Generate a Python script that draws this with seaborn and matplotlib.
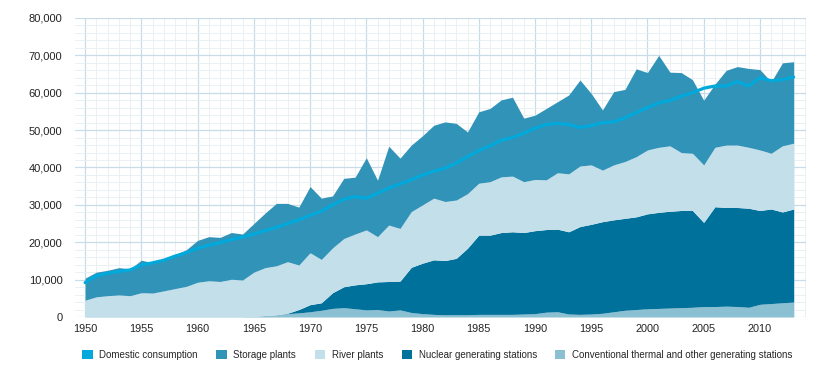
import numpy as np
import matplotlib
matplotlib.use("Agg")
import matplotlib.pyplot as plt
from matplotlib.patches import Patch
from matplotlib.ticker import FuncFormatter, MultipleLocator
import seaborn as sns

# Swiss electricity, GWh, 1950-2013
years = list(range(1950, 2014))

# cumulative upper edges of the stacked areas, bottom to top
conventional = [
    100, 100, 100, 100, 100, 100, 100, 100, 100, 100,
    100, 100, 100, 100, 100, 200, 400, 600, 900, 1100,
    1400, 1800, 2300, 2500, 2200, 1900, 2000, 1600, 1900, 1200,
    900, 700, 600, 600, 600, 700, 700, 700, 700, 800,
    900, 1300, 1400, 800, 700, 800, 1000, 1400, 1800, 2000,
    2200, 2300, 2400, 2500, 2600, 2800, 2800, 2900, 2800, 2600,
    3400, 3600, 3800, 4000]
nuclear_top = [
    100, 100, 100, 100, 100, 100, 100, 100, 100, 100,
    100, 100, 100, 100, 100, 200, 400, 600, 1000, 2000,
    3300, 3800, 6500, 8100, 8600, 8900, 9400, 9500, 9600, 13300,
    14400, 15300, 15100, 15700, 18400, 21900, 21900, 22600, 22800, 22600,
    23100, 23400, 23500, 22800, 24200, 24800, 25500, 26000, 26400, 26800,
    27600, 28000, 28300, 28500, 28500, 25300, 29500, 29300, 29300, 29100,
    28500, 28900, 28100, 28900]
river_top = [
    4500, 5400, 5700, 5900, 5700, 6500, 6400, 7000, 7600, 8200,
    9300, 9700, 9500, 10100, 9900, 12000, 13200, 13700, 14800, 13900,
    17200, 15400, 18500, 21000, 22200, 23300, 21500, 24600, 23700, 28200,
    30000, 31800, 30900, 31300, 33000, 35800, 36200, 37500, 37700, 36200,
    36800, 36700, 38600, 38300, 40400, 40700, 39300, 40700, 41600, 42900,
    44700, 45400, 45800, 44000, 43800, 40700, 45400, 46000, 46000, 45400,
    44700, 43800, 45800, 46500]
storage_top = [
    10400, 12000, 12500, 13200, 12900, 15200, 14500, 15500, 16700, 18000,
    20500, 21500, 21300, 22600, 22200, 25000, 27800, 30400, 30400, 29400,
    34900, 31800, 32400, 37100, 37400, 42600, 36600, 45700, 42500, 46000,
    48500, 51300, 52200, 51800, 49500, 54900, 55800, 58100, 58800, 53200,
    54000, 55800, 57600, 59400, 63400, 59800, 55400, 60300, 60900, 66400,
    65400, 70000, 65500, 65400, 63500, 58000, 62300, 66000, 67000, 66500,
    66200, 62900, 68000, 68300]
consumption = [
    9200, 11000, 11700, 12200, 12600, 13900, 14500, 15200, 16300, 17200,
    18400, 19200, 19900, 20700, 21400, 22200, 23100, 24000, 25000, 26000,
    27200, 28300, 30000, 31500, 32200, 31800, 33100, 34500, 35600, 36700,
    38000, 39000, 39800, 41200, 42900, 44500, 45800, 47300, 48000, 49200,
    50500, 51500, 51800, 51500, 50700, 51200, 52000, 52200, 53300, 54700,
    56000, 57300, 57900, 59100, 60000, 61200, 61800, 61800, 63000, 61800,
    64000, 63200, 63500, 64200]

labels = ["Domestic consumption", "Storage plants", "River plants",
          "Nuclear generating stations",
          "Conventional thermal and other generating stations"]
colors = {"Domestic consumption": "#00a9dc",
          "Storage plants": "#3193b7",
          "River plants": "#c3dfe9",
          "Nuclear generating stations": "#00719a",
          "Conventional thermal and other generating stations": "#8bbfd2"}

sns.set_style("white")
plt.rcParams["font.family"] = ["Liberation Sans", "DejaVu Sans"]

fig = plt.figure(figsize=(8.39, 3.74), dpi=100)
ax = fig.add_axes([0.0894, 0.1524, 0.8713, 0.7995])

x = np.array(years)
zero = np.zeros(len(years))
ax.fill_between(x, zero, conventional, color=colors[labels[4]], lw=0)
ax.fill_between(x, conventional, nuclear_top, color=colors[labels[3]], lw=0)
ax.fill_between(x, nuclear_top, river_top, color=colors[labels[2]], lw=0)
ax.fill_between(x, river_top, storage_top, color=colors[labels[1]], lw=0)
sns.lineplot(x=years, y=consumption, ax=ax, color=colors[labels[0]], lw=2.3)

ax.set_xlim(1949.1, 2014.1)
ax.set_ylim(0, 80000)
ax.xaxis.set_minor_locator(MultipleLocator(1))
ax.yaxis.set_major_locator(MultipleLocator(10000))
ax.yaxis.set_minor_locator(MultipleLocator(2000))
ax.set_xticks(range(1950, 2011, 5))
ax.yaxis.set_major_formatter(FuncFormatter(lambda v, p: f"{int(v):,}"))
ax.set_axisbelow(True)
ax.grid(which="major", color="#c8dce7", lw=0.9)
ax.grid(which="minor", color="#e5eff4", lw=0.6)
for s in ax.spines.values():
    s.set_visible(False)
ax.tick_params(axis="x", which="both", length=3, color="#c8dce7",
               labelsize=7.8, pad=2, labelcolor="#222222")
ax.tick_params(axis="y", which="both", length=0, labelsize=8, pad=9,
               labelcolor="#222222")
ax.set_xlabel("")
ax.set_ylabel("")

handles = [Patch(facecolor=colors[l], edgecolor="none", label=l) for l in labels]
fig.legend(handles=handles, loc="lower center", bbox_to_anchor=(0.5215, 0.015),
           ncol=5, frameon=False, fontsize=7.0, handlelength=1.05,
           handleheight=1.05, handletextpad=0.7, columnspacing=1.9)

fig.savefig("out.png", dpi=100)
